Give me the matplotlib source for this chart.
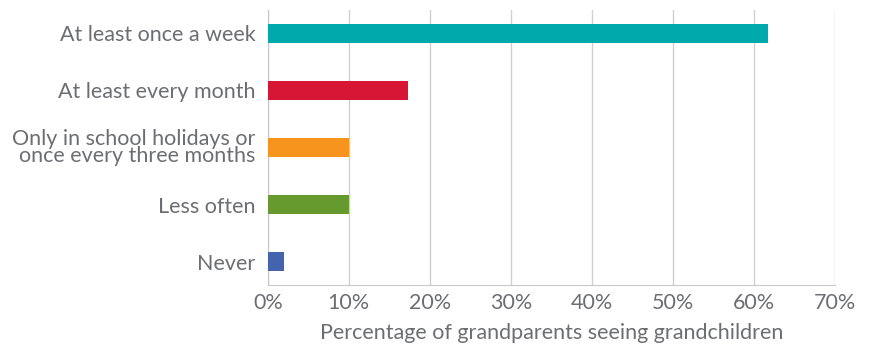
import matplotlib.pyplot as plt
from matplotlib.ticker import PercentFormatter

categories = ['At least once a week', 'At least every month',
              'Only in school holidays or\nonce every three months',
              'Less often', 'Never']
values = [61.7, 17.3, 10, 10, 2]
colors = ['#00A9AC', '#D71635', '#F7941D', '#66992E', '#4464AD']

plt.rcParams['font.family'] = ['Lato', 'DejaVu Sans']
txt = '#6d6e71'

fig = plt.figure(figsize=(8.75, 3.45), dpi=100)
ax = fig.add_axes([0.306, 0.174, 0.648, 0.797])

ypos = range(len(categories))
ax.barh(ypos, values, height=0.33, color=colors, zorder=3)
ax.set_ylim(4.41, -0.41)
ax.set_xlim(0, 70)
ax.set_xticks(range(0, 71, 10))
ax.xaxis.set_major_formatter(PercentFormatter(decimals=0))
ax.set_yticks(list(ypos))
ax.set_yticklabels(categories, linespacing=0.78)

ax.grid(axis='x', color='#d0d0d0', linewidth=1, zorder=0)
for s in ['top', 'right']:
    ax.spines[s].set_visible(False)
ax.spines['left'].set_color('#c8c8c8')
ax.spines['bottom'].set_color('#c8c8c8')
ax.tick_params(axis='both', length=0, labelsize=15.5, labelcolor=txt)
ax.tick_params(axis='x', pad=6)
ax.tick_params(axis='y', pad=9)
ax.set_xlabel('Percentage of grandparents seeing grandchildren',
              fontsize=15.5, color=txt, labelpad=7)

plt.savefig('out.png', dpi=100)
